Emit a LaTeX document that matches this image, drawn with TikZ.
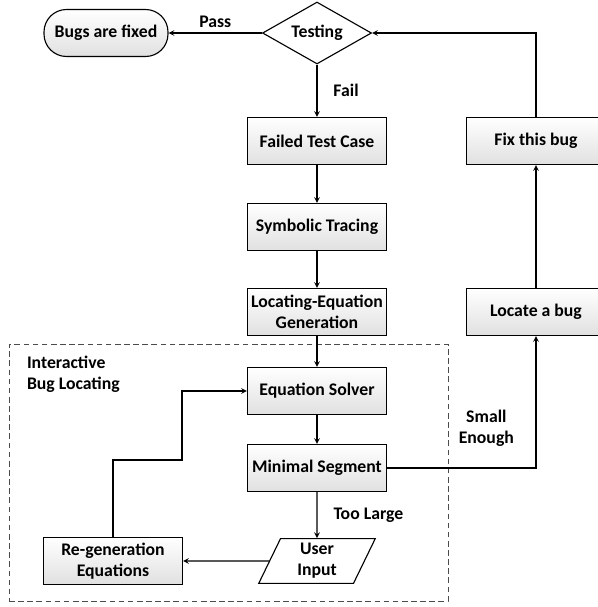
\documentclass[tikz,border=0pt]{standalone}
\usepackage{fontspec}
\setmainfont{Carlito}
\usepackage{tikz}
\usetikzlibrary{shapes, arrows}
\tikzstyle{startstop} = [rectangle, rounded corners=16pt, minimum width=3.1cm, minimum height=1.175cm, text centered, draw=black, thick, top color=white, bottom color=black!12]
\tikzstyle{decision} = [diamond, aspect=1.75, minimum width=2.725cm, minimum height=1.55cm, inner sep=1pt, text centered, draw=black, thick, fill=white]
\tikzstyle{io} = [trapezium, trapezium left angle=72, trapezium right angle=108, trapezium stretches=true, minimum width=2.925cm, minimum height=1.1cm, text centered, draw=black, thick, fill=white]
\tikzstyle{process} = [rectangle, minimum width=3.475cm, minimum height=1.175cm, inner sep=2pt, text centered, draw=black, thick, top color=white, bottom color=black!12]
\tikzstyle{dashbox} = [rectangle, draw=black!70, dash pattern=on 4pt off 2.5pt, minimum width=10.975cm, minimum height=6.425cm]
\tikzstyle{arrow} = [thick,->,>=stealth]

\begin{document}
\begin{tikzpicture}[node distance=2.1cm, align=center, font=\fontsize{12.6}{15}\selectfont\bfseries]
    \useasboundingbox (0,0) rectangle (14.95,-15.175);
    \node (frame) [dashbox] at (5.7125,-11.8125) {};
    \node (frametitle) [anchor=north west, align=left, inner sep=0pt] at ([xshift=0.45cm, yshift=-0.3cm]frame.north west) {Interactive\\Bug Locating};

    \node (testing) [decision] at (7.925,-0.825) {Testing};
    \node (bugsfixed) [startstop, left of=testing, node distance=5.275cm] {Bugs are fixed};
    \node (failed) [process, below of=testing, node distance=2.7cm] {Failed Test Case};
    \node (tracing) [process, below of=failed, node distance=2.15cm] {Symbolic Tracing};
    \node (generation) [process, below of=tracing, node distance=2.125cm] {Locating-Equation\\Generation};
    \node (solver) [process, below of=generation, node distance=1.975cm] {Equation Solver};
    \node (segment) [process, below of=solver, node distance=1.925cm] {Minimal Segment};
    \node (userinput) [io, below of=segment, node distance=2.325cm] {User\\Input};
    \node (regen) [process, left of=userinput, node distance=5.1cm] {Re-generation\\Equations};
    \node (fixbug) [process, right of=failed, node distance=5.475cm] {Fix this bug};
    \node (locate) [process, right of=generation, node distance=5.475cm] {Locate a bug};

    \draw [arrow] (testing) -- node[above] {Pass} (bugsfixed);
    \draw [arrow] (testing) -- node[right=8pt] {Fail} (failed);
    \draw [arrow] (failed) -- (tracing);
    \draw [arrow] (tracing) -- (generation);
    \draw [arrow] (generation) -- (solver);
    \draw [arrow] (solver) -- (segment);
    \draw [arrow] (segment) -- node[right=8pt] {Too Large} (userinput);
    \draw [arrow] (userinput) -- (regen);
    \draw [arrow] (regen.north) --++(0,1.925) --++(1.725,0) |- (solver.west);
    \draw [arrow] (segment.east) -| node[pos=0.65, left=12pt] {Small\\Enough} (locate.south);
    \draw [arrow] (locate) -- (fixbug);
    \draw [arrow] (fixbug.north) |- (testing.east);
  \end{tikzpicture}
\end{document}
